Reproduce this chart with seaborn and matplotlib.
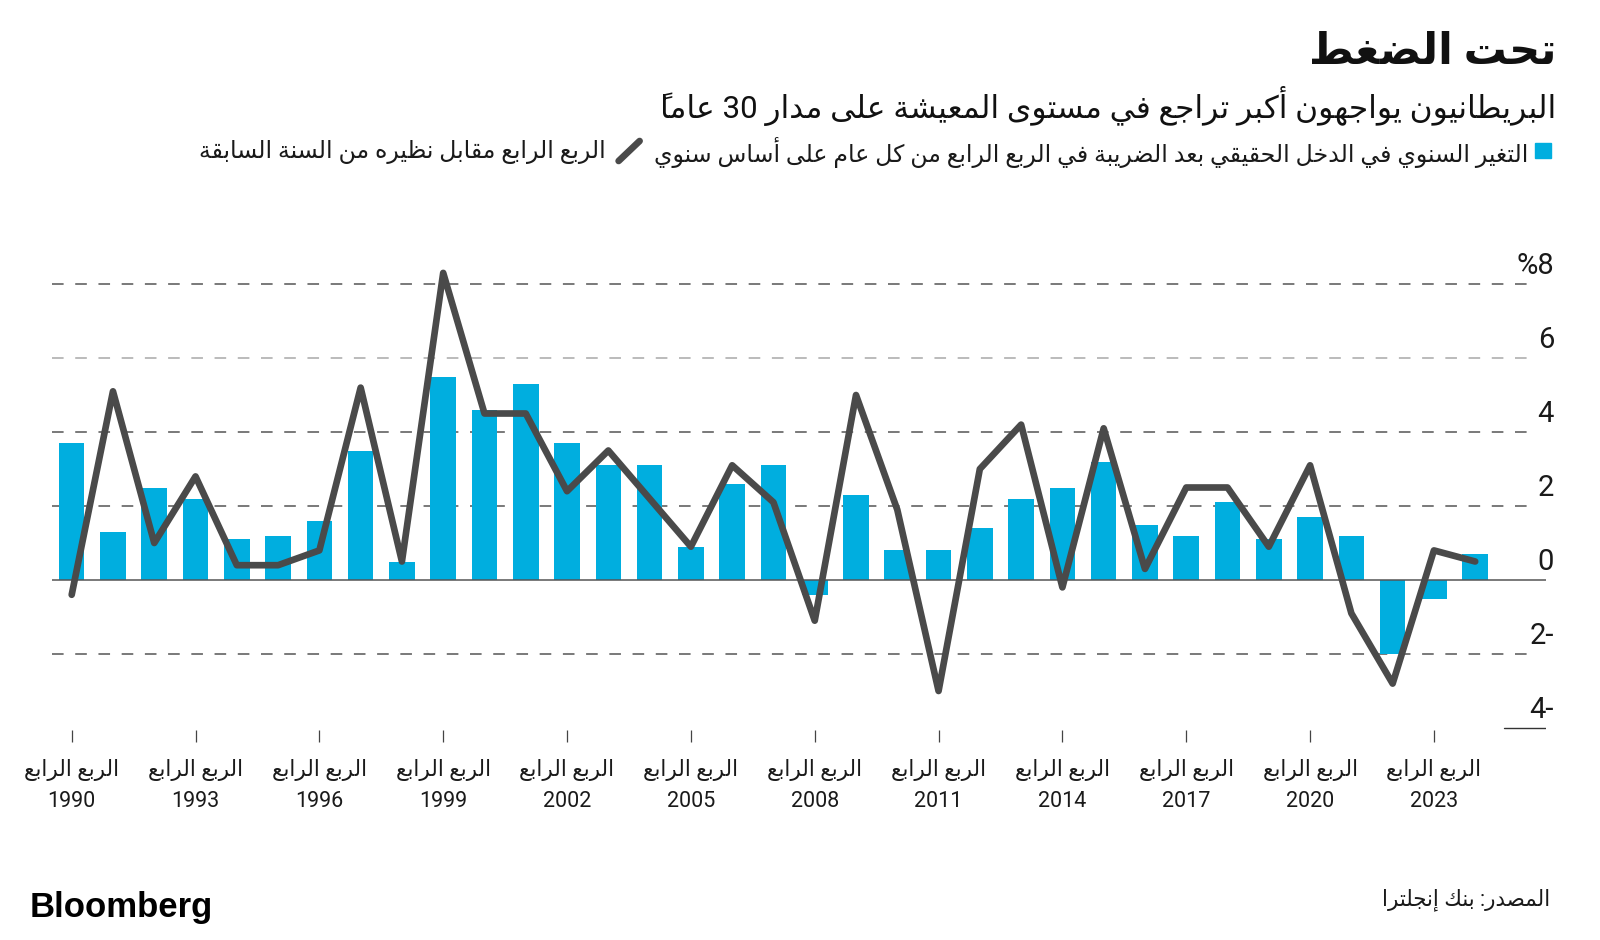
import matplotlib
matplotlib.use("Agg")
import matplotlib.pyplot as plt
from matplotlib.lines import Line2D
from matplotlib.patches import Rectangle
import seaborn as sns

# data (per cent, Q4 of each year)
years = list(range(1990, 2025))
income_change = [3.7, 1.3, 2.5, 2.2, 1.1, 1.2, 1.6, 3.5, 0.5, 5.5, 4.6, 5.3,
                 3.7, 3.1, 3.1, 0.9, 2.6, 3.1, -0.4, 2.3, 0.8, 0.8, 1.4, 2.2,
                 2.5, 3.2, 1.5, 1.2, 2.1, 1.1, 1.7, 1.2, -2.0, -0.5, 0.7]
q4_change = [-0.4, 5.1, 1.0, 2.8, 0.4, 0.4, 0.8, 5.2, 0.5, 8.3, 4.5, 4.5,
             2.4, 3.5, 2.2, 0.9, 3.1, 2.1, -1.1, 5.0, 1.9, -3.0, 3.0, 4.2,
             -0.2, 4.1, 0.3, 2.5, 2.5, 0.9, 3.1, -0.9, -2.8, 0.8, 0.5]
tick_years = [1990, 1993, 1996, 1999, 2002, 2005, 2008, 2011, 2014, 2017, 2020, 2023]
y_levels = [8, 6, 4, 2, 0, -2, -4]
y_labels = ["%8", "6", "4", "2", "0", "2-", "4-"]

title = "تحت الضغط"
subtitle = "البريطانيون يواجهون أكبر تراجع في مستوى المعيشة على مدار 30 عاماً"
bar_label = "التغير السنوي في الدخل الحقيقي بعد الضريبة في الربع الرابع من كل عام على أساس سنوي"
line_label = "الربع الرابع مقابل نظيره من السنة السابقة"
quarter_label = "الربع الرابع"
source = "المصدر: بنك إنجلترا"

BAR_COLOR = "#00AEDF"
LINE_COLOR = "#4A4A4A"

# matplotlib has no Arabic shaping, so pick the presentation forms by hand
_DUAL = {"ب": 0xFE8F, "ت": 0xFE95, "ث": 0xFE99, "ج": 0xFE9D, "ح": 0xFEA1, "خ": 0xFEA5,
         "س": 0xFEB1, "ش": 0xFEB5, "ص": 0xFEB9, "ض": 0xFEBD, "ط": 0xFEC1, "ظ": 0xFEC5,
         "ع": 0xFEC9, "غ": 0xFECD, "ف": 0xFED1, "ق": 0xFED5, "ك": 0xFED9, "ل": 0xFEDD,
         "م": 0xFEE1, "ن": 0xFEE5, "ه": 0xFEE9, "ي": 0xFEF1}
_RIGHT = {"آ": 0xFE81, "أ": 0xFE83, "إ": 0xFE87, "ا": 0xFE8D, "ة": 0xFE93, "د": 0xFEA9,
          "ذ": 0xFEAB, "ر": 0xFEAD, "ز": 0xFEAF, "و": 0xFEED, "ى": 0xFEEF}
_LAM_ALEF = {"آ": 0xFEF5, "أ": 0xFEF7, "إ": 0xFEF9, "ا": 0xFEFB}


def shape(text):
    units = []
    for ch in text:
        if 0x064B <= ord(ch) <= 0x065F and units:
            units[-1][1] += ch
        else:
            units.append([ch, ""])
    out = []
    prev_joins = False
    i = 0
    while i < len(units):
        ch, marks = units[i]
        nxt = units[i + 1][0] if i + 1 < len(units) else ""
        if ch == "ل" and nxt in _LAM_ALEF:
            out.append([chr(_LAM_ALEF[nxt] + prev_joins), marks + units[i + 1][1]])
            prev_joins = False
            i += 2
            continue
        if ch in _DUAL:
            nj = nxt in _DUAL or nxt in _RIGHT
            code = _DUAL[ch] + (3 if prev_joins and nj else 1 if prev_joins else 2 if nj else 0)
            out.append([chr(code), marks])
            prev_joins = nj
        elif ch in _RIGHT:
            out.append([chr(_RIGHT[ch] + prev_joins), marks])
            prev_joins = False
        else:
            out.append([ch, marks])
            prev_joins = False
        i += 1
    # right-to-left: reverse, but keep digit runs left-to-right
    out = out[::-1]
    res, run = [], []
    for u in out:
        if u[0].isascii() and u[0].isalnum():
            run.append(u)
        else:
            res.extend(run[::-1])
            run = []
            res.append(u)
    res.extend(run[::-1])
    # zero-width marks go before their base so they sit over it
    return "".join(m + b for b, m in res)


sns.set_theme(style="white")
plt.rcParams["font.family"] = ["Roboto", "DejaVu Sans"]

W, H = 1600, 940
fig = plt.figure(figsize=(W / 100, H / 100), dpi=100)


def fx(x):
    return x / W


def fy(y):
    return 1 - y / H


# plot area: x 52..1546 px, y 254..730 px (zero at 580, 37 px per unit)
ax = fig.add_axes([fx(52), fy(730), (1546 - 52) / W, (730 - 254.4) / H])

for v in [8, 6, 4, 2, -2]:
    ax.axhline(v, xmin=0, xmax=(1538 - 52) / 1494, color="#A8A8A8" if v == 6 else "#555555",
               lw=1.1, dashes=(7.6, 7.6), zorder=0)

sns.barplot(x=years, y=income_change, native_scale=True, width=0.62, color=BAR_COLOR,
            saturation=1, linewidth=0, ax=ax, zorder=2)
ax.axhline(0, color="#555555", lw=1.1, zorder=3)
ax.axhline(-4, xmin=(1504 - 52) / 1494, xmax=1, color="#333333", lw=1.0, zorder=3)
sns.lineplot(x=years, y=q4_change, color=LINE_COLOR, linewidth=4.8, ax=ax, zorder=4,
             solid_joinstyle="round", solid_capstyle="round")

ax.set_xlim(1989.523, 2025.715)
ax.set_ylim(-4.054, 8.8)
for s in ax.spines.values():
    s.set_visible(False)
ax.set_yticks([])
ax.set_xticks(tick_years)
ax.set_xticklabels([f"{shape(quarter_label)}\n{y}" for y in tick_years],
                   fontsize=15.5, color="#1A1A1A", linespacing=1.65)
ax.tick_params(axis="x", bottom=True, direction="out", length=8.6, width=0.9,
               color="#444444", pad=12)
ax.set_xlabel("")
ax.set_ylabel("")

for v, lab in zip(y_levels, y_labels):
    ax.text((1554 - 52) / 1494, v + 0.5, lab, transform=ax.get_yaxis_transform(),
            ha="right", va="center", fontsize=21, color="#1A1A1A")

# header
fig.text(fx(1556), fy(52), shape(title), ha="right", va="center", fontsize=31,
         fontweight="bold", color="#111111")
fig.text(fx(1556), fy(106), shape(subtitle), ha="right", va="center", fontsize=22.5,
         color="#111111")

# legend row
fig.add_artist(Rectangle((fx(1535), fy(158)), 16 / W, 15 / H, color=BAR_COLOR,
                         transform=fig.transFigure))
t1 = fig.text(fx(1528), fy(152), shape(bar_label), ha="right", va="center", fontsize=17,
              color="#1A1A1A")
fig.canvas.draw()
r = fig.canvas.get_renderer()
left1 = t1.get_window_extent(r).x0
sx1 = left1 - 14
fig.add_artist(Line2D([fx(sx1 - 21), fx(sx1)], [fy(161), fy(141)], color=LINE_COLOR,
                      lw=4.8, solid_capstyle="round", transform=fig.transFigure))
fig.text(fx(sx1 - 34), fy(152), shape(line_label), ha="right", va="center", fontsize=17,
         color="#1A1A1A")

# footer
fig.text(fx(30), fy(917), "Bloomberg", ha="left", va="baseline", fontsize=25,
         fontweight="bold", family=["Liberation Sans"], color="#000000")
fig.text(fx(1550), fy(900), shape(source), ha="right", va="center", fontsize=15.5,
         color="#1A1A1A")

fig.savefig("out.png", dpi=100, facecolor="white")
